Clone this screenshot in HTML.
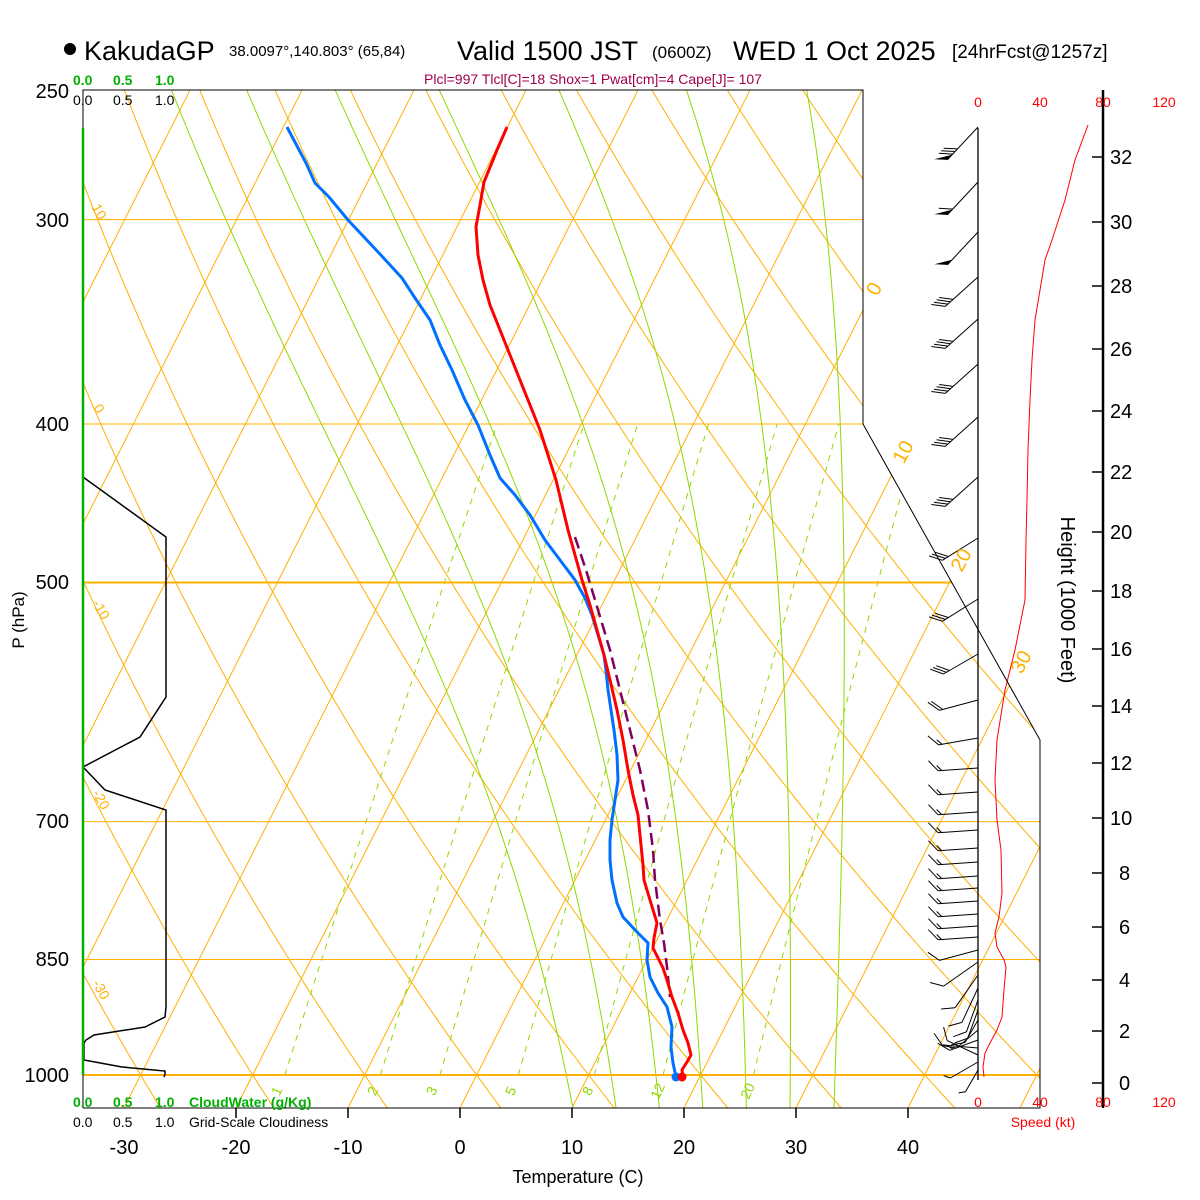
<!DOCTYPE html>
<html><head><meta charset="utf-8"><style>
body{margin:0;background:#fff}
svg{display:block;font-family:"Liberation Sans",Arial,sans-serif}
</style></head><body>
<svg id="s" width="1200" height="1200" viewBox="0 0 1200 1200" xmlns="http://www.w3.org/2000/svg">
<rect width="1200" height="1200" fill="#fff"/>
<defs><clipPath id="c"><polygon points="83,90 863,90 863,424 1040,740 1040,1108 83,1108"/></clipPath></defs>
<g id="bg" clip-path="url(#c)"></g>
<g id="fg"></g>
<polyline points="83,1108 83,90 863,90 863,424 1040,740 1040,1108 83,1108" fill="none" stroke="#000" stroke-width="1"/>
<line x1="83" y1="128" x2="83" y2="1075" stroke="#00b000" stroke-width="2.5"/>
<line x1="978" y1="128" x2="978" y2="1080" stroke="#000" stroke-width="1.3"/>
<line x1="1103" y1="90" x2="1103" y2="1108" stroke="#000" stroke-width="2.5"/>
<g stroke="#000" stroke-width="1.5">
<line x1="236" y1="1108" x2="236" y2="1118"/><line x1="348" y1="1108" x2="348" y2="1118"/>
<line x1="460" y1="1108" x2="460" y2="1118"/><line x1="572" y1="1108" x2="572" y2="1118"/>
<line x1="684" y1="1108" x2="684" y2="1118"/><line x1="796" y1="1108" x2="796" y2="1118"/>
<line x1="908" y1="1108" x2="908" y2="1118"/>
</g>
<g id="ht" stroke="#000" stroke-width="1.5"></g>

<circle cx="70" cy="49" r="6" fill="#000"/>
<text x="84" y="60" font-size="27">KakudaGP</text>
<text x="229" y="56" font-size="15">38.0097°,140.803° (65,84)</text>
<text x="457" y="60" font-size="27">Valid 1500 JST</text>
<text x="652" y="58" font-size="17">(0600Z)</text>
<text x="733" y="60" font-size="27">WED 1 Oct 2025</text>
<text x="952" y="58" font-size="19">[24hrFcst@1257z]</text>

<g font-size="14" fill="#00b000" font-weight="bold">
<text x="73" y="85">0.0</text><text x="113" y="85">0.5</text><text x="155" y="85">1.0</text>
<text x="73" y="1107">0.0</text><text x="113" y="1107">0.5</text><text x="155" y="1107">1.0</text>
<text x="189" y="1107">CloudWater (g/Kg)</text>
</g>
<g font-size="14" fill="#000">
<text x="73" y="105">0.0</text><text x="113" y="105">0.5</text><text x="155" y="105">1.0</text>
<text x="73" y="1127">0.0</text><text x="113" y="1127">0.5</text><text x="155" y="1127">1.0</text>
<text x="189" y="1127">Grid-Scale Cloudiness</text>
</g>
<text x="593" y="84" font-size="14" fill="#a0004a" text-anchor="middle">Plcl=997 Tlcl[C]=18 Shox=1 Pwat[cm]=4 Cape[J]= 107</text>

<g font-size="20" text-anchor="end">
<text x="69" y="98">250</text><text x="69" y="227">300</text><text x="69" y="431">400</text>
<text x="69" y="589">500</text><text x="69" y="828">700</text><text x="69" y="966">850</text>
<text x="69" y="1082">1000</text>
</g>
<text transform="translate(24,620) rotate(-90)" font-size="17" text-anchor="middle">P (hPa)</text>

<g font-size="20" text-anchor="middle">
<text x="124" y="1154">-30</text><text x="236" y="1154">-20</text><text x="348" y="1154">-10</text>
<text x="460" y="1154">0</text><text x="572" y="1154">10</text><text x="684" y="1154">20</text>
<text x="796" y="1154">30</text><text x="908" y="1154">40</text>
</g>
<text x="578" y="1183" font-size="18" text-anchor="middle">Temperature (C)</text>

<g font-size="14" fill="#f00" text-anchor="middle">
<text x="978" y="107">0</text><text x="1040" y="107">40</text><text x="1103" y="107">80</text><text x="1164" y="107">120</text>
<text x="978" y="1107">0</text><text x="1040" y="1107">40</text><text x="1103" y="1107">80</text><text x="1164" y="1107">120</text>
<text x="1043" y="1127">Speed (kt)</text>
</g>
<text transform="translate(1061,600) rotate(90)" font-size="20" text-anchor="middle">Height (1000 Feet)</text>
<g font-size="20">
<text x="1119" y="1090">0</text><text x="1119" y="1038">2</text><text x="1119" y="987">4</text>
<text x="1119" y="934">6</text><text x="1119" y="880">8</text><text x="1110" y="825">10</text>
<text x="1110" y="770">12</text><text x="1110" y="713">14</text><text x="1110" y="656">16</text>
<text x="1110" y="598">18</text><text x="1110" y="539">20</text><text x="1110" y="479">22</text>
<text x="1110" y="418">24</text><text x="1110" y="356">26</text><text x="1110" y="293">28</text>
<text x="1110" y="229">30</text><text x="1110" y="164">32</text>
</g>

<g font-size="20" fill="#ffb000" text-anchor="middle">
<text transform="translate(880,292) rotate(-62)">0</text>
<text transform="translate(909,455) rotate(-62)">10</text>
<text transform="translate(967,563) rotate(-62)">20</text>
<text transform="translate(1027,665) rotate(-62)">30</text>
</g>
<g font-size="14" fill="#ffb000" text-anchor="middle">
<text transform="translate(95,214) rotate(60)">10</text>
<text transform="translate(95,411) rotate(60)">0</text>
<text transform="translate(97,612) rotate(60)">-10</text>
<text transform="translate(97,802) rotate(60)">-20</text>
<text transform="translate(97,992) rotate(60)">-30</text>
</g>
<g font-size="14" fill="#90d800" text-anchor="middle">
<text transform="translate(281,1093) rotate(-65)">1</text>
<text transform="translate(377,1093) rotate(-65)">2</text>
<text transform="translate(436,1093) rotate(-65)">3</text>
<text transform="translate(515,1093) rotate(-65)">5</text>
<text transform="translate(592,1093) rotate(-65)">8</text>
<text transform="translate(662,1093) rotate(-65)">12</text>
<text transform="translate(752,1093) rotate(-65)">20</text>
</g>
</svg>
<script>
(function(){
const Y=p=>1075-710.5*Math.log(1000/p);
const X=(T,y)=>460+11.2*T+0.505*(1108-y);
const f1=v=>v.toFixed(1);
let h='';
function pl(pts,st){h+='<polyline points="'+pts.map(p=>f1(p[0])+','+f1(p[1])).join(' ')+'" fill="none" '+st+'/>';}
const OR='stroke="#ffb000" stroke-width="1"';
for(let T=-130;T<=60;T+=10){pl([[X(T,1108),1108],[X(T,85),85]],OR);}
for(let th=-40;th<=150;th+=10){let pts=[];for(let p=1050;p>=245;p-=5){const T=(th+273.15)*Math.pow(p/1000,0.2857)-273.15;const y=Y(p);pts.push([X(T,y),y]);}pl(pts,OR);}
const es=T=>6.112*Math.exp(17.67*T/(T+243.5));
const f=(T,p)=>{const e=es(T-273.15);const rs=0.622*e/(p-e);return (287*T+2.5e6*rs)/(p*(1004+2.5e6*2.5e6*rs*0.622/(287*T*T)));};
for(const tw of [8,12,16,20,24,28,32]){
 let arr=[];let T=tw+273.15;
 for(let p=1000;p<=1050;p+=1){arr.unshift([p,T]);T+=f(T,p);}
 T=tw+273.15;for(let p=1000;p>=245;p-=1){if(p<1000)arr.push([p,T]);T-=f(T,p);}
 const pts=[];arr.forEach((a,i)=>{if(i%3==0||i==arr.length-1){const y=Y(a[0]);pts.push([X(a[1]-273.15,y),y]);}});
 pl(pts,'stroke="#90d800" stroke-width="1"');
}
for(const w of [1,2,3,5,8,12,20]){let pts=[];for(let p=1000;p>=400;p-=10){const e=w*p/(622+w);const a=Math.log(e/6.112);const Td=243.5*a/(17.67-a);const y=Y(p);pts.push([X(Td,y),y]);}
 pl(pts,'stroke="#90d800" stroke-width="1" stroke-dasharray="6,6"');}
for(const pw of [[300,1],[400,1],[500,2],[700,1],[850,1],[1000,2]]){const y=Y(pw[0]);h+='<line x1="83" y1="'+f1(y)+'" x2="1045" y2="'+f1(y)+'" stroke="#ffb000" stroke-width="'+pw[1]+'"/>';}
const NS='http://www.w3.org/2000/svg';
function put(id,str){const el=document.getElementById(id);const tmp=new DOMParser().parseFromString('<svg xmlns="'+NS+'">'+str+'</svg>','image/svg+xml').documentElement;while(tmp.firstChild){el.appendChild(document.importNode(tmp.firstChild,true));tmp.removeChild(tmp.firstChild);}}
put('bg',h);

let g='';
function P(pts,st){g+='<polyline points="'+pts.map(p=>p.join(',')).join(' ')+'" fill="none" '+st+'/>';}
P([[83,477],[166,537],[166,697],[140,737],[83,767],[105,790],[166,810],[166,1007],[165,1017],[145,1027],[94,1035],[86,1040],[84,1043],[84,1060],[122,1067],[165,1071],[165,1074],[164,1077]],'stroke="#000" stroke-width="1.5"');
P([[575,537],[586,570],[598,610],[610,650],[620,690],[630,730],[640,770],[648,810],[653,850],[655,880],[660,920],[664,943],[667,967],[670,997]],'stroke="#800060" stroke-width="2.5" stroke-dasharray="12,6"');
P([[287,127],[306,163],[315,183],[329,197],[348,220],[379,253],[402,278],[415,298],[430,320],[440,345],[452,370],[465,400],[478,425],[490,455],[500,478],[515,495],[530,515],[545,540],[560,560],[575,580],[585,598],[592,615],[598,635],[604,655],[606,670],[608,690],[611,710],[614,730],[617,755],[618,780],[615,800],[612,820],[610,840],[610,860],[612,880],[617,903],[623,917],[637,932],[648,943],[647,960],[650,977],[658,993],[667,1007],[672,1027],[671,1047],[673,1063],[676,1077]],'stroke="#0070ff" stroke-width="3"');
P([[507,127],[497,150],[484,182],[480,205],[476,227],[478,255],[483,280],[490,305],[500,330],[510,355],[520,380],[530,405],[540,430],[548,455],[556,480],[562,505],[568,530],[575,555],[582,580],[590,605],[597,630],[604,655],[610,680],[617,710],[623,740],[628,770],[633,795],[638,815],[640,835],[643,865],[644,880],[650,900],[657,923],[654,938],[653,948],[658,958],[663,968],[667,980],[672,997],[678,1013],[683,1030],[688,1043],[691,1055],[687,1062],[682,1070],[683,1077]],'stroke="#ff0000" stroke-width="3"');
g+='<circle cx="676" cy="1077" r="4.5" fill="#0070ff"/><circle cx="682" cy="1077" r="4.5" fill="#ff0000"/>';
P([[1088,125],[1075,160],[1065,200],[1052,240],[1045,260],[1040,290],[1035,320],[1032,360],[1030,400],[1028,450],[1027,500],[1026,540],[1025,600],[1015,650],[1005,690],[997,740],[995,780],[997,820],[1001,850],[1002,893],[999,917],[995,933],[997,947],[1004,960],[1006,967],[1004,990],[1002,1017],[997,1030],[990,1043],[985,1053],[983,1067],[984,1077]],'stroke="#ff0000" stroke-width="1"');
function barb(y,ang,len,nf,nh,np){
 const a=ang*Math.PI/180,ux=Math.cos(a),uy=Math.sin(a);
 const tx=978+ux*len,ty=y+uy*len;
 g+='<line x1="978" y1="'+y+'" x2="'+f1(tx)+'" y2="'+f1(ty)+'" stroke="#000" stroke-width="1"/>';
 const b=(ang+50)*Math.PI/180,bx=Math.cos(b),by=Math.sin(b);
 let d=0;
 for(let i=0;i<np;i++){const x1=tx-ux*d,y1=ty-uy*d,x2=tx-ux*(d+7),y2=ty-uy*(d+7);
  g+='<polygon points="'+f1(x1)+','+f1(y1)+' '+f1(x2)+','+f1(y2)+' '+f1(x1+bx*13)+','+f1(y1+by*13)+'" fill="#000"/>';d+=8;}
 for(let i=0;i<nf;i++){const x1=tx-ux*d,y1=ty-uy*d;g+='<line x1="'+f1(x1)+'" y1="'+f1(y1)+'" x2="'+f1(x1+bx*14)+'" y2="'+f1(y1+by*14)+'" stroke="#000" stroke-width="1"/>';d+=3.5;}
 for(let i=0;i<nh;i++){const x1=tx-ux*d,y1=ty-uy*d;g+='<line x1="'+f1(x1)+'" y1="'+f1(y1)+'" x2="'+f1(x1+bx*7)+'" y2="'+f1(y1+by*7)+'" stroke="#000" stroke-width="1"/>';d+=3.5;}
}
barb(127,133,45,3,0,1);barb(182,133,45,1,0,1);barb(232,133,45,0,0,1);
[277,319,364,417,477].forEach(y=>barb(y,138,44,4,0,0));
barb(538,148,42,3,0,0);barb(599,148,42,3,0,0);barb(654,150,40,3,0,0);
barb(700,165,40,2,0,0);barb(738,170,40,1,1,0);
[768,792,812,830,848,862,876,888,901,914,926,937].forEach(y=>barb(y,176,40,1,1,0));
barb(950,165,40,1,0,0);barb(962,145,42,1,0,0);barb(975,125,40,1,0,0);barb(988,115,38,1,0,0);
barb(1000,110,34,1,0,0);barb(1010,110,30,1,0,0);barb(1020,120,26,1,0,0);barb(1030,140,28,1,0,0);
barb(1040,160,30,1,1,0);barb(1048,185,36,1,0,0);barb(1055,205,34,1,0,0);barb(1062,150,32,0,1,0);barb(1070,120,25,0,1,0);
put('fg',g);
let t='';
[[0,1083],[2,1031],[4,980],[6,927],[8,873],[10,818],[12,763],[14,706],[16,649],[18,591],[20,532],[22,472],[24,411],[26,349],[28,286],[30,222],[32,157]].forEach(a=>{t+='<line x1="1092" y1="'+a[1]+'" x2="1103" y2="'+a[1]+'"/>';});
put('ht',t);
})();
</script>
</body></html>
